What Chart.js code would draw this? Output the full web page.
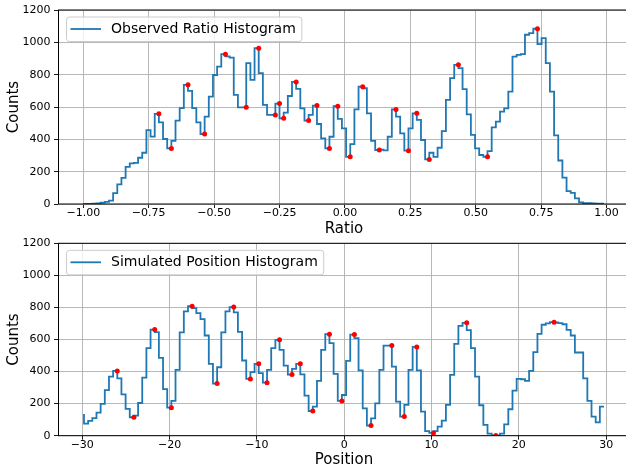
<!DOCTYPE html>
<html><head><meta charset="utf-8">
<script src="https://cdn.jsdelivr.net/npm/chart.js@4.4.0/dist/chart.umd.min.js"></script>
<style>
html,body{margin:0;padding:0;background:#fff;overflow:hidden;width:626px;height:468px;}
#wrap{position:relative;width:626px;height:468px;overflow:hidden;background:#fff;}
canvas{position:absolute;left:0;}
#c1{top:0;}
#c2{top:234px;}
</style></head><body>
<div id="wrap"><canvas id="c1" width="640" height="240"></canvas><canvas id="c2" width="640" height="234"></canvas></div>
<script>
// ---- data ----
const ratioBinStart = -0.9973;
const ratioBinWidth = 0.0159;
const ratioCounts = [0, 1, 1, 2, 4, 9, 13, 21, 67, 121,
 162, 230, 251, 255, 286, 317, 457, 417, 558, 505,
 402, 344, 390, 516, 593, 737, 700, 593, 505, 433,
 540, 664, 798, 850, 927, 913, 906, 675, 598, 598,
 871, 768, 964, 809, 613, 551, 551, 621, 530, 565,
 668, 755, 712, 592, 516, 551, 609, 495, 406, 344,
 416, 605, 527, 468, 292, 370, 585, 726, 716, 561,
 391, 334, 336, 332, 416, 585, 540, 437, 330, 468,
 561, 520, 396, 276, 317, 292, 348, 451, 644, 778,
 861, 840, 710, 555, 427, 344, 303, 292, 327, 474,
 509, 571, 592, 695, 912, 923, 927, 1047, 1057, 1084,
 989, 1026, 871, 695, 424, 269, 163, 80, 69, 35,
 10, 6, 5, 3, 2, 2];
const ratioPeakIdx = [18, 21, 25, 29, 34, 39, 42, 46, 47, 48, 51, 54, 56, 59, 61, 64, 67, 71, 75, 78, 80, 83, 90, 97, 109];
const ratioTicks = [-1, -0.75, -0.5, -0.25, 0, 0.25, 0.5, 0.75, 1];
const ratioTickLabels = ['\u22121.00', '\u22120.75', '\u22120.50', '\u22120.25', '0.00', '0.25', '0.50', '0.75', '1.00'];

const positionBinStart = -29.80;
const positionBinWidth = 0.4764;
const positionCounts = [136, 75, 92, 110, 144, 199, 284, 369, 404, 358,
 258, 167, 115, 125, 204, 362, 546, 662, 646, 485,
 290, 175, 217, 410, 644, 775, 808, 796, 764, 727,
 625, 448, 325, 427, 644, 775, 802, 769, 648, 469,
 354, 396, 448, 390, 331, 410, 546, 598, 535, 437,
 381, 417, 448, 383, 250, 154, 181, 342, 535, 633,
 577, 386, 217, 254, 467, 631, 608, 408, 171, 63,
 108, 202, 410, 562, 562, 431, 213, 119, 192, 410,
 554, 408, 150, 29, 17, 29, 56, 94, 192, 379,
 573, 685, 704, 658, 546, 369, 190, 67, 13, 2,
 2, 13, 71, 165, 281, 354, 352, 342, 404, 521,
 635, 692, 700, 708, 706, 702, 695, 660, 625, 519,
 519, 358, 217, 119, 83, 181];
const positionPeakIdx = [8, 12, 17, 21, 26, 32, 36, 40, 42, 44, 47, 50, 52, 55, 59, 62, 65, 69, 74, 77, 80, 84, 92, 99, 113];
const positionTicks = [-30, -20, -10, 0, 10, 20, 30];
const positionTickLabels = ['\u221230', '\u221220', '\u221210', '0', '10', '20', '30'];

const countTicks = [0, 200, 400, 600, 800, 1000, 1200];
const countTickLabels = ['0', '200', '400', '600', '800', '1000', '1200'];

// ---- drawing ----
Chart.defaults.font.family = '"DejaVu Sans", sans-serif';
Chart.defaults.color = '#000';

const frameAndLegend = {
  id: 'frameAndLegend',
  afterDatasetsDraw(chart, args, opts) {
    const ctx = chart.ctx, a = chart.chartArea;
    ctx.save();
    ctx.strokeStyle = '#000';
    ctx.lineWidth = 1;
    ctx.strokeRect(Math.round(a.left) + 0.5, a.top, a.right - a.left, a.bottom - a.top);
    ctx.font = '14px "DejaVu Sans"';
    const tw = ctx.measureText(opts.text).width;
    const x = a.left + 8.5, y = a.top + 7, h = 24.5, w = 44.5 + tw + 6, r = 3;
    ctx.beginPath();
    ctx.moveTo(x + r, y);
    ctx.lineTo(x + w - r, y); ctx.arcTo(x + w, y, x + w, y + r, r);
    ctx.lineTo(x + w, y + h - r); ctx.arcTo(x + w, y + h, x + w - r, y + h, r);
    ctx.lineTo(x + r, y + h); ctx.arcTo(x, y + h, x, y + h - r, r);
    ctx.lineTo(x, y + r); ctx.arcTo(x, y, x + r, y, r);
    ctx.closePath();
    ctx.fillStyle = 'rgba(255,255,255,0.8)';
    ctx.fill();
    ctx.strokeStyle = '#cccccc';
    ctx.lineWidth = 1;
    ctx.stroke();
    ctx.beginPath();
    ctx.moveTo(x + 4, y + 12);
    ctx.lineTo(x + 34.5, y + 12);
    ctx.strokeStyle = '#1f77b4';
    ctx.lineWidth = 1.8;
    ctx.stroke();
    ctx.fillStyle = '#000';
    ctx.textBaseline = 'middle';
    ctx.textAlign = 'left';
    ctx.fillText(opts.text, x + 44.5, y + 12.5);
    ctx.restore();
  }
};

function makeChart(id, p) {
  const n = p.counts.length;
  const pts = p.counts.map((c, i) => ({x: p.start + i * p.width, y: c}));
  const peaks = p.peaks.map(i => ({x: p.start + i * p.width, y: p.counts[i]}));
  const first = p.start, last = p.start + (n - 1) * p.width;
  const R = last - first;
  const xmin = first - 0.05 * R, xmax = last + 0.05 * R;
  return new Chart(document.getElementById(id), {
    type: 'line',
    data: {
      datasets: [
        {data: peaks, showLine: false, pointRadius: 2.5, pointBackgroundColor: '#ff0000',
         pointBorderWidth: 0, borderColor: '#ff0000', order: 0},
        {data: pts, stepped: 'after', borderColor: '#1f77b4', borderWidth: 1.8,
         pointRadius: 0, fill: false, tension: 0, order: 1}
      ]
    },
    options: {
      responsive: false, animation: false, devicePixelRatio: 1,
      events: [],
      layout: {padding: {top: p.padTop, right: 10, left: 0, bottom: 0}},
      plugins: {legend: {display: false}, tooltip: {enabled: false}, frameAndLegend: {text: p.legend}},
      scales: {
        x: {
          type: 'linear', min: xmin, max: xmax,
          afterBuildTicks: ax => { ax.ticks = p.xTicks.map(v => ({value: v})); },
          afterFit: sc => { sc.height = p.xHeight; },
          ticks: {callback: (v, i) => p.xLabels[i], autoSkip: false, maxRotation: 0, minRotation: 0,
                  padding: 0, font: {size: 11, lineHeight: 1}, color: '#000'},
          grid: {color: '#b0b0b0', lineWidth: 0.9, tickColor: '#000', tickLength: 4, tickWidth: 0.9, drawTicks: true},
          border: {display: false},
          title: {display: true, text: p.xTitle, font: {size: 15, lineHeight: 1}, color: '#000',
                  padding: {top: 0, bottom: p.titlePad}}
        },
        y: {
          type: 'linear', min: 0, max: 1200,
          afterBuildTicks: ax => { ax.ticks = countTicks.map(v => ({value: v})); },
          afterFit: sc => { sc.width = 58; },
          ticks: {callback: (v, i) => countTickLabels[i], autoSkip: false, padding: 3.5,
                  font: {size: 11, lineHeight: 1}, color: '#000'},
          grid: {color: '#b0b0b0', lineWidth: 0.9, tickColor: '#000', tickLength: 4, tickWidth: 0.9, drawTicks: true},
          border: {display: false},
          title: {display: true, text: 'Counts', font: {size: 15, lineHeight: 1}, color: '#000',
                  padding: {top: 7, bottom: 0}}
        }
      }
    },
    plugins: [frameAndLegend]
  });
}

makeChart('c1', {counts: ratioCounts, start: ratioBinStart, width: ratioBinWidth, peaks: ratioPeakIdx,
  xTicks: ratioTicks, xLabels: ratioTickLabels, xTitle: 'Ratio', legend: 'Observed Ratio Histogram',
  padTop: 10, xHeight: 36, titlePad: 3.5});
makeChart('c2', {counts: positionCounts, start: positionBinStart, width: positionBinWidth, peaks: positionPeakIdx,
  xTicks: positionTicks, xLabels: positionTickLabels, xTitle: 'Position', legend: 'Simulated Position Histogram',
  padTop: 9.3, xHeight: 32.3, titlePad: 0});
</script>
</body></html>
